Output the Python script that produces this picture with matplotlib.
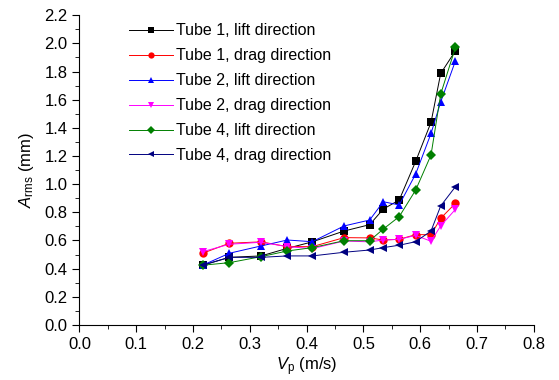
import matplotlib.pyplot as plt
from matplotlib.ticker import MultipleLocator, FormatStrFormatter

plt.rcParams['font.family'] = ['Liberation Sans', 'DejaVu Sans']
plt.rcParams['mathtext.fontset'] = 'custom'
plt.rcParams['mathtext.rm'] = 'Liberation Sans'
plt.rcParams['mathtext.it'] = 'Liberation Sans:italic'

vp = [0.217, 0.264, 0.32, 0.366, 0.41, 0.466, 0.511, 0.535, 0.563, 0.592, 0.619, 0.636, 0.662]

tube1_lift = [0.424, 0.48, 0.49, 0.544, 0.59, 0.667, 0.712, 0.823, 0.887, 1.162, 1.439, 1.786, 1.947]
tube1_drag = [0.509, 0.58, 0.59, 0.556, 0.556, 0.62, 0.618, 0.603, 0.608, 0.641, 0.641, 0.757, 0.864]
tube2_lift = [0.424, 0.509, 0.561, 0.603, 0.591, 0.703, 0.745, 0.875, 0.852, 1.072, 1.36, 1.583, 1.876]
tube2_drag = [0.52, 0.573, 0.587, 0.556, 0.542, 0.596, 0.59, 0.603, 0.608, 0.636, 0.594, 0.703, 0.821]
tube4_lift = [0.424, 0.442, 0.485, 0.525, 0.549, 0.598, 0.598, 0.681, 0.769, 0.958, 1.207, 1.639, 1.971]
tube4_drag = [0.424, 0.48, 0.48, 0.49, 0.49, 0.516, 0.532, 0.549, 0.566, 0.591, 0.667, 0.845, 0.982]

series = [
    ("Tube 1, lift direction", tube1_lift, "black", "s"),
    ("Tube 1, drag direction", tube1_drag, "red", "o"),
    ("Tube 2, lift direction", tube2_lift, "blue", "^"),
    ("Tube 2, drag direction", tube2_drag, "magenta", "v"),
    ("Tube 4, lift direction", tube4_lift, "green", "D"),
    ("Tube 4, drag direction", tube4_drag, "navy", "<"),
]

fig = plt.figure(figsize=(5.59, 3.8), dpi=100)
ax = fig.add_axes([0.142, 0.145, 0.813, 0.815])

for label, vals, col, mk in series:
    ms = 5 if mk == "D" else 6
    ax.plot(vp, vals, color=col, marker=mk, markersize=ms, linewidth=0.7,
            markeredgewidth=0, label=label)

ax.set_xlim(0, 0.8)
ax.set_ylim(0, 2.2)
ax.xaxis.set_major_locator(MultipleLocator(0.1))
ax.xaxis.set_minor_locator(MultipleLocator(0.05))
ax.yaxis.set_major_locator(MultipleLocator(0.2))
ax.yaxis.set_minor_locator(MultipleLocator(0.1))
ax.xaxis.set_major_formatter(FormatStrFormatter('%.1f'))
ax.yaxis.set_major_formatter(FormatStrFormatter('%.1f'))
ax.spines['top'].set_visible(False)
ax.spines['right'].set_visible(False)
ax.tick_params(which='major', direction='out', length=5, labelsize=12)
ax.tick_params(which='minor', direction='out', length=3)

ax.set_xlabel(r"$V_\mathrm{p}$ (m/s)", fontsize=12, labelpad=3)
ax.set_ylabel(r"$A_\mathrm{rms}$ (mm)", fontsize=12, labelpad=6)

ax.legend(loc='upper left', bbox_to_anchor=(0.219, 0.955), bbox_transform=fig.transFigure,
          frameon=False, fontsize=11.5, handlelength=2.75, handletextpad=0.2,
          labelspacing=0.62, borderaxespad=0, markerscale=0.75)

fig.savefig("out.png", dpi=100)
